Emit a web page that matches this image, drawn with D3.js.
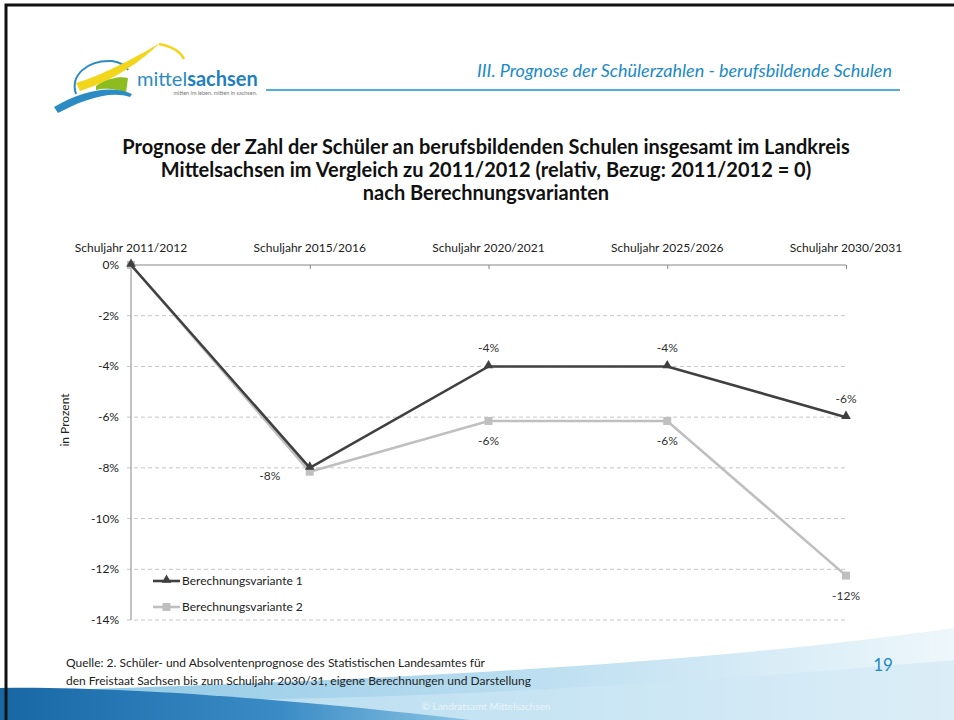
<!DOCTYPE html>
<html><head><meta charset="utf-8">
<script src="https://cdn.jsdelivr.net/npm/d3@7"></script>
<style>body{margin:0;background:#fff}svg{display:block}text{font-family:Lato,"Open Sans",sans-serif}</style>
</head><body>
<script>
const categories = ["Schuljahr 2011/2012","Schuljahr 2015/2016","Schuljahr 2020/2021","Schuljahr 2025/2026","Schuljahr 2030/2031"];
const series1Name = "Berechnungsvariante 1";
const series2Name = "Berechnungsvariante 2";
const series1 = [0, -8.0, -4.0, -4.0, -6.0];
const series2 = [0, -8.15, -6.15, -6.15, -12.25];
const series1Labels = ["", "-8%", "-4%", "-4%", "-6%"];
const series2Labels = ["", "", "-6%", "-6%", "-12%"];
const yTicks = [0, -2, -4, -6, -8, -10, -12, -14];

const W = 954, H = 720;
const svg = d3.select("body").append("svg").attr("width", W).attr("height", H);
const defs = svg.append("defs");

// bottom waves
const g1 = defs.append("linearGradient").attr("id","gl").attr("x1","0").attr("x2","1").attr("y1","0").attr("y2","0");
g1.append("stop").attr("offset","0").attr("stop-color","#8cc6e4");
g1.append("stop").attr("offset","0.5").attr("stop-color","#b5dbef");
g1.append("stop").attr("offset","1").attr("stop-color","#eef7fb");
const g2 = defs.append("linearGradient").attr("id","gd").attr("x1","0").attr("x2","1").attr("y1","0").attr("y2","0");
g2.append("stop").attr("offset","0").attr("stop-color","#1767a5");
g2.append("stop").attr("offset","0.6").attr("stop-color","#3b8cc6");
g2.append("stop").attr("offset","1").attr("stop-color","#8cc4e3");
svg.append("path").attr("d","M0,720 L0,692 C250,684 650,672 954,628 L954,720 Z").attr("fill","url(#gl)");
svg.append("path").attr("d","M0,720 L0,698 C200,704 500,700 954,660 L954,720 Z").attr("fill","#cfe8f5").attr("opacity",0.6);
svg.append("path").attr("d","M0,720 L0,688 C120,686 300,700 470,720 Z").attr("fill","url(#gd)");
svg.append("text").attr("x",486).attr("y",710).attr("text-anchor","middle").attr("font-size",10).attr("fill","#e8f4fb").text("© Landratsamt Mittelsachsen");

// slide border
svg.append("path").attr("d","M6,720 L6,5 L954,5").attr("fill","none").attr("stroke","#111").attr("stroke-width",3);

// logo
const logo = svg.append("g");
logo.append("path").attr("d","M76,94 C70,76 86,60 112,61 C120,62 126,66 128,70").attr("fill","none").attr("stroke","#2b8cc4").attr("stroke-width",2);
logo.append("path").attr("d","M76,83 C100,76 135,58 160,43 C140,62 115,80 80,91 Z").attr("fill","#f2d61c");
logo.append("path").attr("d","M159,44 C170,46 180,51 184,59").attr("fill","none").attr("stroke","#f2d61c").attr("stroke-width",2.5);
logo.append("path").attr("d","M96,86 C108,78 120,76 128,78 L126,93 C116,88 104,88 96,90 Z").attr("fill","#8cbc1e");
logo.append("path").attr("d","M54,107 C80,92 110,84 132,94 L130,97 C110,90 82,100 58,113 Z").attr("fill","#2b8cc4");
logo.append("text").attr("x",137).attr("y",86).attr("font-size",20).attr("fill","#2b8cc4")
  .call(t=>{t.append("tspan").text("mittel");t.append("tspan").attr("font-weight","bold").attr("fill","#1f7fbf").text("sachsen");});
logo.append("text").attr("x",257).attr("y",95).attr("text-anchor","end").attr("font-size",5.5).attr("fill","#777").text("mitten im leben. mitten in sachsen.");

// header
svg.append("text").attr("x",892).attr("y",77).attr("text-anchor","end").attr("font-size",18).attr("font-style","italic").attr("fill","#1a8ac8").text("III. Prognose der Schülerzahlen - berufsbildende Schulen");
svg.append("line").attr("x1",266).attr("x2",900).attr("y1",90).attr("y2",90).attr("stroke","#52aed6").attr("stroke-width",2);

// title
const titleLines = ["Prognose der Zahl der Schüler an berufsbildenden Schulen insgesamt im Landkreis","Mittelsachsen im Vergleich zu 2011/2012 (relativ, Bezug: 2011/2012 = 0)","nach Berechnungsvarianten"];
svg.append("g").selectAll("text").data(titleLines).join("text")
  .attr("x",486).attr("y",(d,i)=>154+i*23).attr("text-anchor","middle").attr("font-size",20).attr("font-weight","bold").attr("fill","#111").text(d=>d);

// chart
const x = d3.scalePoint().domain(categories).range([131, 846]);
const y = d3.scaleLinear().domain([-14, 0]).range([620, 265]);

const grid = svg.append("g");
grid.selectAll("line").data(yTicks.filter(v=>v!==0)).join("line")
  .attr("x1",127).attr("x2",846).attr("y1",d=>y(d)).attr("y2",d=>y(d))
  .attr("stroke","#c6c6c6").attr("stroke-dasharray","4,3").attr("stroke-width",1);

// y axis
svg.append("line").attr("x1",131).attr("x2",131).attr("y1",y(0)).attr("y2",y(-14)).attr("stroke","#868686");
svg.append("g").selectAll("text").data(yTicks).join("text")
  .attr("x",119).attr("y",d=>y(d)+4).attr("text-anchor","end").attr("font-size",12).attr("fill","#222")
  .text(d=>d+"%");
svg.append("text").attr("transform","translate(69,420) rotate(-90)").attr("text-anchor","middle").attr("font-size",12).attr("fill","#222").text("in Prozent");

// x axis at 0 (top)
const xAxis = d3.axisBottom(x).tickSize(4).tickFormat("");
const xg = svg.append("g").attr("transform",`translate(0,${y(0)})`).call(xAxis);
xg.select(".domain").attr("stroke","#868686").attr("d",`M131,0H846`);
xg.selectAll(".tick line").attr("stroke","#868686");
svg.append("g").selectAll("text").data(categories).join("text")
  .attr("x",d=>x(d)).attr("y",252).attr("text-anchor","middle").attr("font-size",12).attr("fill","#222").text(d=>d);

const line = d3.line().x((d,i)=>x(categories[i])).y(d=>y(d));
// series 2 (below)
svg.append("path").datum(series2).attr("d",line).attr("fill","none").attr("stroke","#bfbfbf").attr("stroke-width",2.6);
svg.append("g").selectAll("rect").data(series2).join("rect")
  .attr("x",(d,i)=>x(categories[i])-4).attr("y",d=>y(d)-4).attr("width",8).attr("height",8).attr("fill","#bfbfbf");
// series 1
svg.append("path").datum(series1).attr("d",line).attr("fill","none").attr("stroke","#404040").attr("stroke-width",2.6);
const tri = d3.symbol().type(d3.symbolTriangle).size(40);
svg.append("g").selectAll("path").data(series1).join("path")
  .attr("d",tri).attr("transform",(d,i)=>`translate(${x(categories[i])},${y(d)-1})`).attr("fill","#404040");

// data labels
svg.append("g").selectAll("text").data(series1.map((v,i)=>({v,i,l:series1Labels[i]})).filter(d=>d.l)).join("text")
  .attr("x",d=>d.i===1 ? x(categories[d.i])-40 : x(categories[d.i]))
  .attr("y",d=>d.i===1 ? y(d.v)+12 : y(d.v)-14)
  .attr("text-anchor","middle").attr("font-size",12).attr("fill","#333").text(d=>d.l);
svg.append("g").selectAll("text").data(series2.map((v,i)=>({v,i,l:series2Labels[i]})).filter(d=>d.l)).join("text")
  .attr("x",d=>x(categories[d.i])).attr("y",d=>y(d.v)+24)
  .attr("text-anchor","middle").attr("font-size",12).attr("fill","#333").text(d=>d.l);

// legend
const legend = svg.append("g");
[[series1Name,"#404040","tri"],[series2Name,"#bfbfbf","sq"]].forEach(([name,col,m],i)=>{
  const ly = 581 + i*26;
  legend.append("line").attr("x1",153).attr("x2",180).attr("y1",ly).attr("y2",ly).attr("stroke",col).attr("stroke-width",2.6);
  if(m==="tri") legend.append("path").attr("d",tri).attr("transform",`translate(166.5,${ly-1})`).attr("fill",col);
  else legend.append("rect").attr("x",162.5).attr("y",ly-4).attr("width",8).attr("height",8).attr("fill",col);
  legend.append("text").attr("x",182).attr("y",ly+4).attr("font-size",12).attr("fill","#222").text(name);
});

// source
svg.append("text").attr("x",66).attr("y",667).attr("font-size",12).attr("fill","#222").text("Quelle: 2. Schüler- und Absolventenprognose des Statistischen Landesamtes für");
svg.append("text").attr("x",66).attr("y",685).attr("font-size",12).attr("fill","#222").text("den Freistaat Sachsen bis zum Schuljahr 2030/31, eigene Berechnungen und Darstellung");
svg.append("text").attr("x",883).attr("y",671).attr("text-anchor","middle").attr("font-size",17).attr("fill","#1a8ac8").text("19");
</script>
</body></html>
